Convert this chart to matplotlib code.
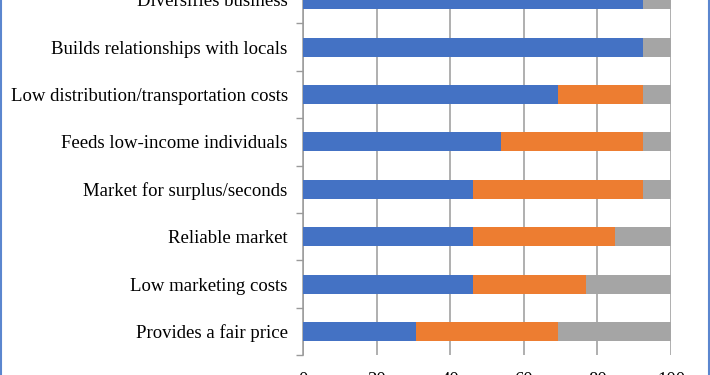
import numpy as np
import matplotlib.pyplot as plt
from matplotlib.lines import Line2D

plt.rcParams['font.family'] = ['Liberation Serif', 'DejaVu Serif']

# Categories, bottom to top
categories = [
    "Provides a fair price",
    "Low marketing costs",
    "Reliable market",
    "Market for surplus/seconds",
    "Feeds low-income individuals",
    "Low distribution/transportation costs",
    "Builds relationships with locals",
    "Diversifies business",
]

# Percent of respondents
blue_vals = [30.8, 46.2, 46.2, 46.2, 53.8, 69.2, 92.3, 92.3]
orange_vals = [38.5, 30.8, 38.5, 46.2, 38.5, 23.1, 0.0, 0.0]
gray_vals = [30.8, 23.1, 15.4, 7.7, 7.7, 7.7, 7.7, 7.7]

xticks = [0, 20, 40, 60, 80, 100]

colors = ["#4472C4", "#ED7D31", "#A5A5A5"]

fig = plt.figure(figsize=(7.10, 3.75), dpi=100)
W, H = 710, 375

# the visible region is a crop of a bigger chart, so the axes run past the top edge
left, right = 303, 671
bottom_px = 355.2
step = 47.4
top_px = bottom_px - step * len(categories)
ax = fig.add_axes([left / W, (H - bottom_px) / H, (right - left) / W, (bottom_px - top_px) / H])

y = np.arange(len(categories))
b = np.array(blue_vals)
o = np.array(orange_vals)
g = np.array(gray_vals)
ax.barh(y, b, height=0.4, color=colors[0], zorder=3)
ax.barh(y, o, left=b, height=0.4, color=colors[1], zorder=3)
ax.barh(y, g, left=b + o, height=0.4, color=colors[2], zorder=3)

ax.set_xlim(0, 100)
ax.set_ylim(-0.5, len(categories) - 0.5)
ax.set_xticks(xticks)
ax.set_xticklabels([str(t) for t in xticks], fontsize=13.5)
ax.tick_params(axis='x', length=0, pad=12)
ax.grid(axis='x', color='#9a9a9a', linewidth=1.1, zorder=0)
ax.set_axisbelow(True)

ax.set_yticks(y)
ax.set_yticklabels(categories, fontsize=13.5)
ax.set_yticks(np.arange(-0.5, len(categories), 1.0), minor=True)
ax.tick_params(axis='y', which='major', length=0, pad=11)
ax.tick_params(axis='y', which='minor', length=5, width=1.0, color='#9a9a9a')

for s in ['top', 'right', 'bottom']:
    ax.spines[s].set_visible(False)
ax.spines['left'].set_color('#9a9a9a')
ax.spines['left'].set_linewidth(1.1)

# chart frame edges
for xp in (1.5, 708.5):
    fig.add_artist(Line2D([xp / W, xp / W], [0, 1], transform=fig.transFigure,
                          color='#5B86CF', linewidth=1.5))

fig.savefig("out.png", dpi=100)
